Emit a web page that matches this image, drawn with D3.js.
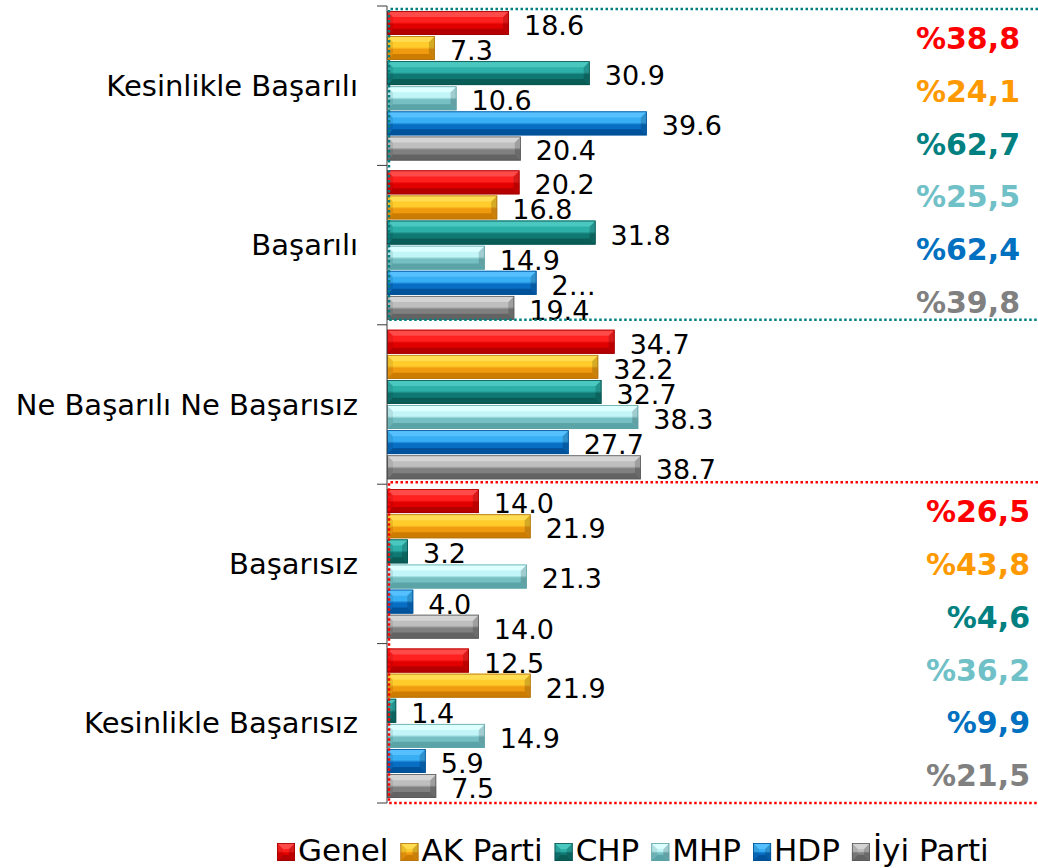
<!DOCTYPE html>
<html lang="tr">
<head>
<meta charset="utf-8">
<title>Başarı değerlendirmesi</title>
<script src="https://cdn.jsdelivr.net/npm/d3@7/dist/d3.min.js"></script>
<style>
  html, body { margin: 0; padding: 0; background: #ffffff; }
  svg { display: block; font-family: "DejaVu Sans", Verdana, sans-serif; }
</style>
</head>
<body>
<svg id="chart" width="1038" height="868"></svg>
<script>
// ---- Data -------------------------------------------------------------
const categories = [
  "Kesinlikle Başarılı",
  "Başarılı",
  "Ne Başarılı Ne Başarısız",
  "Başarısız",
  "Kesinlikle Başarısız"
];
const seriesNames = ["Genel", "AK Parti", "CHP", "MHP", "HDP", "İyi Parti"];

const genel    = [18.6, 20.2, 34.7, 14.0, 12.5];
const akParti  = [7.3, 16.8, 32.2, 21.9, 21.9];
const chp      = [30.9, 31.8, 32.7, 3.2, 1.4];
const mhp      = [10.6, 14.9, 38.3, 21.3, 14.9];
const hdp      = [39.6, 22.8, 27.7, 4.0, 5.9];
const iyiParti = [20.4, 19.4, 38.7, 14.0, 7.5];

// Summary panels: totals of the positive and negative answers
const positiveGroup = ["Kesinlikle Başarılı", "Başarılı"];
const negativeGroup = ["Başarısız", "Kesinlikle Başarısız"];

// Data label that the label box cuts short
const clippedLabels = [{ series: "HDP", category: "Başarılı", text: "2…" }];

const seriesValues = [genel, akParti, chp, mhp, hdp, iyiParti];

// ---- Colours ----------------------------------------------------------
const palettes = {
  "Genel":     { hi: "#ff4a4a", up: "#ff2020", lo: "#e00000", dk: "#b40000", edge: "#a00000", text: "#ff0000" },
  "AK Parti":  { hi: "#ffdc50", up: "#ffcc2c", lo: "#f09a10", dk: "#cc7c00", edge: "#b07416", text: "#ff9900" },
  "CHP":       { hi: "#4ac8c0", up: "#2cb0a8", lo: "#107872", dk: "#0a5c57", edge: "#09524e", text: "#008080" },
  "MHP":       { hi: "#dcffff", up: "#c2f5f8", lo: "#76c0c4", dk: "#5aa4a8", edge: "#5ea2a6", text: "#70c0c7" },
  "HDP":       { hi: "#56c0ff", up: "#38aef4", lo: "#086ec4", dk: "#00529a", edge: "#005096", text: "#0070c0" },
  "İyi Parti": { hi: "#d4d4d4", up: "#bebebe", lo: "#808080", dk: "#636363", edge: "#5a5a5a", text: "#808080" }
};

// ---- Layout -----------------------------------------------------------
const svg = d3.select("#chart");
const W = 1038;

const x = d3.scaleLinear().domain([0, 100]).range([387, 1043]);
const y = d3.scaleBand().domain(categories).range([6, 803]).padding(0);
const ys = d3.scaleBand().domain(seriesNames)
  .range([5, y.bandwidth() - 5]).paddingInner(0.05).paddingOuter(0);

const defs = svg.append("defs");
seriesNames.forEach((s, i) => {
  const p = palettes[s];
  const g = defs.append("linearGradient").attr("id", "body" + i)
    .attr("x1", 0).attr("y1", 0).attr("x2", 0).attr("y2", 1);
  [[0, p.up], [0.46, p.up], [0.56, p.lo], [1, p.lo]].forEach(([o, c]) =>
    g.append("stop").attr("offset", o).attr("stop-color", c));
});

// Beveled bar: body gradient plus four facets and a thin outline
function bevel(g, x0, x1, y0, y1, i, size) {
  const p = palettes[seriesNames[i]];
  const w = x1 - x0, h = y1 - y0;
  if (w <= 0) return;
  const b = Math.min(size, w / 2, h / 2);
  const poly = pts => pts.map(d => d.join(",")).join(" ");
  g.append("rect").attr("x", x0).attr("y", y0).attr("width", w).attr("height", h)
    .attr("fill", `url(#body${i})`);
  // side facets
  g.append("polygon").attr("points", poly([[x0, y0], [x0 + b, y0 + b], [x0 + b, y1 - b], [x0, y1]]))
    .attr("fill", "#000").attr("fill-opacity", 0.08);
  g.append("polygon").attr("points", poly([[x1, y0], [x1, y1], [x1 - b, y1 - b], [x1 - b, y0 + b]]))
    .attr("fill", "#000").attr("fill-opacity", 0.16);
  // top and bottom facets
  g.append("polygon").attr("points", poly([[x0, y0], [x1, y0], [x1 - b, y0 + b], [x0 + b, y0 + b]]))
    .attr("fill", p.hi);
  g.append("polygon").attr("points", poly([[x0, y1], [x1, y1], [x1 - b, y1 - b], [x0 + b, y1 - b]]))
    .attr("fill", p.dk);
  g.append("rect").attr("x", x0 + 0.4).attr("y", y0 + 0.4)
    .attr("width", Math.max(0, w - 0.8)).attr("height", Math.max(0, h - 0.8))
    .attr("fill", "none").attr("stroke", p.edge).attr("stroke-width", 0.8);
}

// ---- Bars -------------------------------------------------------------
const fmt = d3.format(".1f");
const barLayer = svg.append("g");
const labelLayer = svg.append("g")
  .attr("font-size", 27).attr("fill", "#000");

categories.forEach((cat, ci) => {
  seriesNames.forEach((s, si) => {
    const v = seriesValues[si][ci];
    const y0 = y(cat) + ys(s);
    const y1 = y0 + ys.bandwidth();
    bevel(barLayer, x(0), x(v), y0, y1, si, 6);
    const clip = clippedLabels.find(d => d.series === s && d.category === cat);
    labelLayer.append("text")
      .attr("x", x(v) + 15)
      .attr("y", (y0 + y1) / 2 + 12)
      .text(clip ? clip.text : fmt(v));
  });
});

// ---- Category axis ----------------------------------------------------
const axisG = svg.append("g").attr("transform", `translate(${x(0)},0)`);
axisG.append("line").attr("x1", 0).attr("x2", 0)
  .attr("y1", y.range()[0]).attr("y2", y.range()[1])
  .attr("stroke", "#3a3a3a").attr("stroke-width", 1);
const tickYs = categories.map(c => y(c)).concat([y.range()[1]]);
axisG.selectAll("line.tick").data(tickYs).join("line").attr("class", "tick")
  .attr("x1", -10).attr("x2", 0).attr("y1", d => d).attr("y2", d => d)
  .attr("stroke", "#3a3a3a").attr("stroke-width", 1);
svg.append("g").attr("font-size", 29).attr("fill", "#000").attr("text-anchor", "end")
  .selectAll("text").data(categories).join("text")
  .attr("x", 358)
  .attr("y", d => y(d) + y.bandwidth() / 2 + 10)
  .text(d => d);

// ---- Summary panels ---------------------------------------------------
function panel(group, color, top, bottom, right) {
  const ci = group.map(c => categories.indexOf(c));
  const g = svg.append("g");
  const path = d3.path();
  path.moveTo(W, top); path.lineTo(389, top); path.lineTo(389, bottom); path.lineTo(W, bottom);
  g.append("path").attr("d", path.toString()).attr("fill", "none")
    .attr("stroke", color).attr("stroke-width", 2.5).attr("stroke-dasharray", "2.5 2.5");
  g.append("g").attr("font-size", 30).attr("font-weight", "bold").attr("text-anchor", "end")
    .selectAll("text").data(seriesNames).join("text")
    .attr("x", right)
    .attr("y", (d, i) => top + 29 + i * 52.8 + 11)
    .attr("fill", d => palettes[d].text)
    .text((d, i) => "%" + fmt(d3.sum(ci, c => seriesValues[i][c])).replace(".", ","));
}
panel(positiveGroup, "#008080",
  y(positiveGroup[0]) + 3, y(positiveGroup[1]) + y.bandwidth() - 5, 1020);
panel(negativeGroup, "#ff0000",
  y(negativeGroup[0]) - 2, y(negativeGroup[1]) + y.bandwidth(), 1030);

// ---- Legend -----------------------------------------------------------
const legend = svg.append("g").attr("font-size", 31).attr("fill", "#000");
let lx = 277;
seriesNames.forEach((s, i) => {
  const item = legend.append("g");
  bevel(item, lx, lx + 18, 843, 861, i, 6);
  const t = item.append("text").attr("x", lx + 21).attr("y", 861).text(s);
  lx += 21 + t.node().getComputedTextLength() + 12;
});
</script>
</body>
</html>
